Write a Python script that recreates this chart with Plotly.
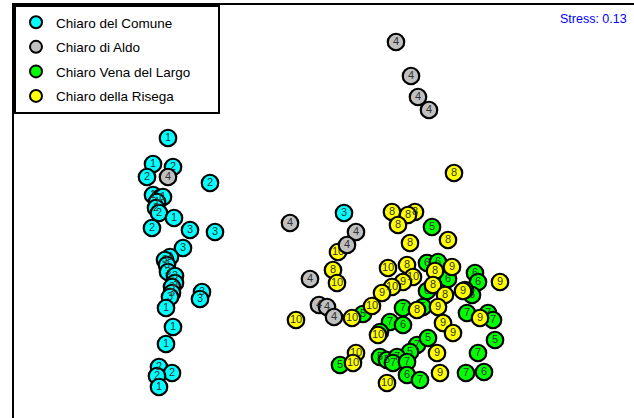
import plotly.graph_objects as go

# NMDS scores (arbitrary units), labels are sample codes
comune_lab = ["1","1","2","2","2","1","1","1","1","2","2","1","2","3","3","3","3","3","3","3","3","3","3","3","3","3","3","1","1","1","2","2","2","1","3"]
comune_x = [-1.52,-1.67,-1.73,-1.47,-1.10,-1.67,-1.60,-1.57,-1.63,-1.64,-1.61,-1.46,-1.68,-1.30,-1.05,-1.37,-1.50,-1.55,-1.53,-1.52,-1.45,-1.45,-1.48,-1.48,-1.50,-1.18,-1.20,-1.54,-1.47,-1.54,-1.61,-1.48,-1.63,-1.61,0.24]
comune_y = [0.72,0.46,0.33,0.43,0.27,0.15,0.12,0.13,0.08,0.02,-0.03,-0.08,-0.18,-0.20,-0.22,-0.38,-0.47,-0.50,-0.55,-0.62,-0.66,-0.73,-0.77,-0.83,-0.87,-0.82,-0.89,-0.98,-1.17,-1.34,-1.57,-1.63,-1.66,-1.77,-0.03]

aldo_lab = ["4"]*12
aldo_x = [0.76,0.91,0.98,1.09,-1.52,-0.30,0.36,0.27,-0.10,-0.01,0.07,0.14]
aldo_y = [1.68,1.34,1.13,1.00,0.33,-0.13,-0.22,-0.35,-0.69,-0.95,-0.97,-1.07]

vena_lab = ["5","6","6","6","6","6","6","6","6","7","5","7","7","7","7","6","5","5","5","7","5","5","5","5","7","7","7","5","6","7","7","6","7"]
vena_x = [1.12,1.07,1.18,1.28,1.55,1.58,1.07,1.52,1.45,0.83,1.03,1.47,1.68,1.73,0.70,0.83,0.43,0.60,1.75,0.97,1.08,0.90,0.60,0.67,0.77,0.73,0.87,0.20,0.87,1.00,1.46,1.64,1.58]
vena_y = [-0.17,-0.53,-0.52,-0.69,-0.63,-0.72,-0.81,-0.85,-0.80,-0.98,-0.97,-1.03,-1.03,-1.10,-1.12,-1.15,-1.04,-1.22,-1.30,-1.35,-1.28,-1.42,-1.47,-1.50,-1.47,-1.53,-1.52,-1.55,-1.65,-1.70,-1.63,-1.62,-1.43]

risega_lab = ["8","8","8","8","8","8","8","10","8","10","10","8","10","9","10","9","10","10","10","9","8","9","8","8","9","8","9","9","9","9","10","10","10","9","9","10"]
risega_x = [1.34,0.72,0.95,0.88,0.78,0.90,1.28,0.18,0.13,0.17,0.68,0.87,0.93,0.83,0.72,0.62,0.52,0.32,-0.24,1.32,1.15,1.80,1.13,1.25,1.43,0.97,1.18,1.60,1.23,1.33,0.58,0.36,0.33,1.17,1.20,0.67]
risega_y = [0.37,-0.02,-0.02,-0.05,-0.15,-0.33,-0.30,-0.42,-0.60,-0.73,-0.58,-0.55,-0.67,-0.72,-0.77,-0.83,-0.96,-1.08,-1.10,-0.57,-0.61,-0.72,-0.75,-0.85,-0.81,-1.00,-0.97,-1.08,-1.13,-1.23,-1.25,-1.43,-1.53,-1.43,-1.63,-1.73]

stress_text = "Stress: 0.13"

PAD = "\u00a0" * 6  # invisible padding to widen the legend box like the reference

groups = [
    ("Chiaro del Comune", comune_x, comune_y, comune_lab, "#00FFFF", 1),
    ("Chiaro Vena del Largo" + PAD, vena_x, vena_y, vena_lab, "#00FF00", 3),
    ("Chiaro della Risega", risega_x, risega_y, risega_lab, "#FFFF00", 4),
    ("Chiaro di Aldo", aldo_x, aldo_y, aldo_lab, "#C0C0C0", 2),
]

fig = go.Figure()
for name, xs, ys, labs, col, rank in groups:
    fig.add_trace(go.Scatter(
        x=xs, y=ys, text=labs, name=name, mode="markers+text",
        textposition="middle center",
        textfont=dict(family="Liberation Sans, Arial", size=11, color="#333333"),
        marker=dict(size=16.5, color=col, line=dict(color="black", width=2.2)),
        legendrank=rank, legendgroup=name,
    ))

fig.add_annotation(text=stress_text, xref="paper", yref="paper", x=0.992, y=0.966,
                   xanchor="right", yanchor="middle", showarrow=False,
                   font=dict(family="Liberation Sans, Arial", size=12.5, color="blue"))

fig.update_layout(
    width=634, height=418,
    margin=dict(l=14, r=0, t=5, b=0),
    paper_bgcolor="white", plot_bgcolor="white",
    showlegend=True,
    legend=dict(x=0, y=1, xanchor="left", yanchor="top",
                bgcolor="white", bordercolor="black", borderwidth=2,
                font=dict(family="Liberation Sans, Arial", size=13.5, color="black"),
                tracegroupgap=4, itemsizing="constant"),
    xaxis=dict(range=[-3.06, 3.14], showgrid=False, zeroline=False, showticklabels=False,
               ticks="", showline=True, linecolor="black", linewidth=2, side="top"),
    yaxis=dict(range=[-2.08, 2.05], showgrid=False, zeroline=False, showticklabels=False,
               ticks="", showline=True, linecolor="black", linewidth=2),
)

fig.write_html("out.html", config={"displayModeBar": False},
               post_script="document.body.style.margin='0';document.body.style.overflow='hidden';")
